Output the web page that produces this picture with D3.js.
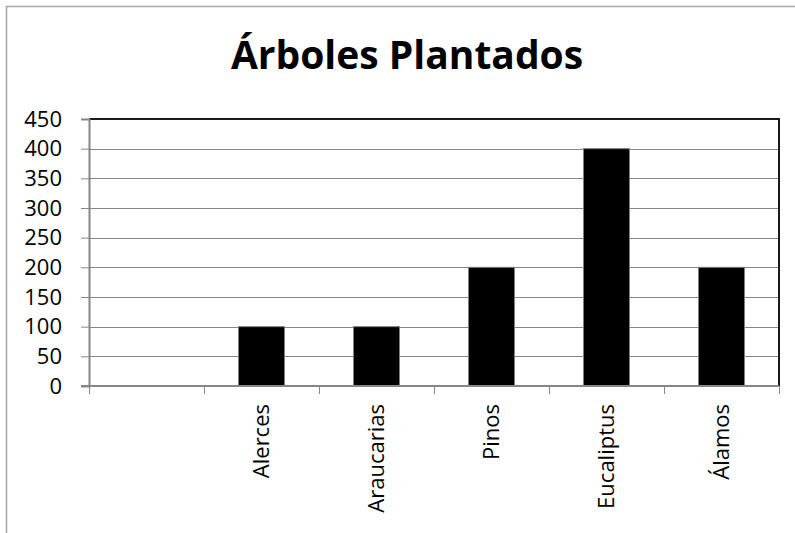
<!DOCTYPE html>
<html>
<head>
<meta charset="utf-8">
<script src="https://cdnjs.cloudflare.com/ajax/libs/d3/7.8.5/d3.min.js"></script>
<style>
	html, body { margin: 0; padding: 0; background: #fff; }
	svg { display: block; font-family: 'Open Sans', sans-serif; }
	.title { font-weight: bold; font-size: 39px; }
	svg text.tick-label { font-size: 22px; fill: #000; }
</style>
</head>
<body>
<div id="chart"></div>
<script>
/* global d3 */

const chartTitle = 'Árboles Plantados';
const categories = ['', 'Alerces', 'Araucarias', 'Pinos', 'Eucaliptus', 'Álamos'];
const treeCounts = [null, 100, 100, 200, 400, 200];
const yTicks = [0, 50, 100, 150, 200, 250, 300, 350, 400, 450];

const width = 795;
const height = 533;

const margins = {
	left: 89,
	right: 16,
	top: 119,
	bottom: 147,
};

const svg = d3.select('#chart').append('svg')
	.attr('width', width)
	.attr('height', height);

// outer chart frame (runs off the right and bottom edge)
svg.append('rect')
	.attr('x', 6.5)
	.attr('y', 6.5)
	.attr('width', width + 10)
	.attr('height', height + 10)
	.attr('fill', 'none')
	.attr('stroke', '#a6a6a6')
	.attr('stroke-width', 1.5);

svg.append('text')
	.attr('class', 'title')
	.attr('x', 407)
	.attr('y', 69)
	.attr('text-anchor', 'middle')
	.text(chartTitle);

const x = d3.scaleBand()
	.domain(categories)
	.range([margins.left, width - margins.right])
	.paddingInner(0.6)
	.paddingOuter(0.3);

const y = d3.scaleLinear()
	.domain([0, 450])
	.range([height - margins.bottom, margins.top]);

const plotLeft = margins.left;
const plotRight = width - margins.right;

// gridlines
svg.append('g')
	.selectAll('line')
	.data(yTicks.filter(d => d > 0 && d < 450))
	.enter().append('line')
	.attr('x1', plotLeft)
	.attr('x2', plotRight)
	.attr('y1', d => Math.round(y(d)) + 0.5)
	.attr('y2', d => Math.round(y(d)) + 0.5)
	.attr('stroke', '#868686')
	.attr('stroke-width', 1);

// bars
svg.append('g')
	.selectAll('rect')
	.data(categories.map((c, i) => ({name: c, value: treeCounts[i]})).filter(d => d.value !== null))
	.enter().append('rect')
	.attr('x', d => x(d.name))
	.attr('y', d => y(d.value))
	.attr('width', x.bandwidth())
	.attr('height', d => y(0) - y(d.value))
	.attr('fill', '#000')
	.attr('stroke', '#7f7f7f')
	.attr('stroke-width', 1);

// plot frame top/right
svg.append('path')
	.attr('d', `M${plotLeft},${y(450)}H${plotRight}V${y(0)}`)
	.attr('fill', 'none')
	.attr('stroke', '#1a1a1a')
	.attr('stroke-width', 2);

// y axis
const yAxis = d3.axisLeft(y)
	.tickValues(yTicks)
	.tickSize(8)
	.tickPadding(19);

const yAxisGroup = svg.append('g')
	.attr('transform', `translate(${plotLeft},0)`)
	.call(yAxis);

yAxisGroup.attr('font-size', null).attr('font-family', null);
yAxisGroup.select('.domain')
	.attr('stroke', '#868686')
	.attr('stroke-width', 2);
yAxisGroup.selectAll('.tick line')
	.attr('stroke', '#868686');
yAxisGroup.selectAll('.tick text')
	.attr('class', 'tick-label');

// x axis line and category boundary ticks
svg.append('line')
	.attr('x1', plotLeft - 8)
	.attr('x2', plotRight)
	.attr('y1', y(0))
	.attr('y2', y(0))
	.attr('stroke', '#868686')
	.attr('stroke-width', 2);

const boundaries = d3.range(categories.length + 1).map(i => plotLeft + i * x.step());

svg.append('g')
	.selectAll('line')
	.data(boundaries)
	.enter().append('line')
	.attr('x1', d => Math.round(d) + 0.5)
	.attr('x2', d => Math.round(d) + 0.5)
	.attr('y1', y(0))
	.attr('y2', y(0) + 8)
	.attr('stroke', '#868686');

// rotated category labels
svg.append('g')
	.selectAll('text')
	.data(categories)
	.enter().append('text')
	.attr('class', 'tick-label')
	.attr('text-anchor', 'end')
	.attr('dy', '0.35em')
	.attr('transform', d => `translate(${x(d) + x.bandwidth() / 2},404) rotate(-90)`)
	.text(d => d);
</script>
</body>
</html>
